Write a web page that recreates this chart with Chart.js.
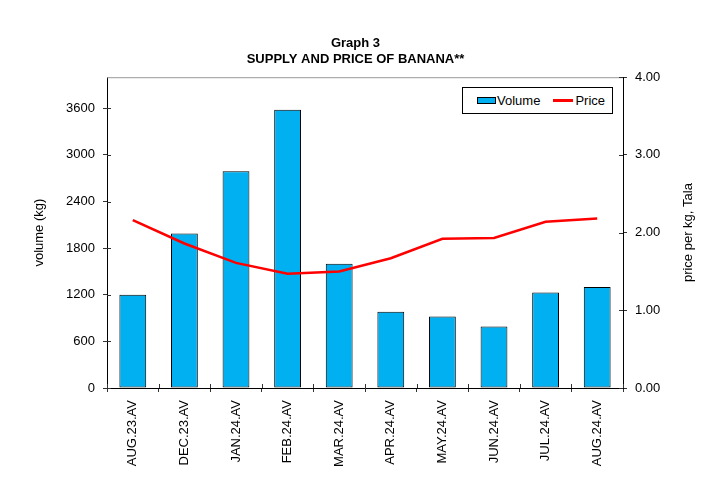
<!DOCTYPE html>
<html>
<head>
<meta charset="utf-8">
<script src="https://cdn.jsdelivr.net/npm/chart.js@4.4.1/dist/chart.umd.min.js"></script>
<style>
  html, body { margin: 0; padding: 0; background: #fff; }
  #wrap { position: relative; width: 711px; height: 495px; }
  #legend {
    position: absolute; left: 462px; top: 87px; width: 151px; height: 27px;
    border: 1px solid #000; background: #fff; box-sizing: border-box;
    font: 13px "Liberation Sans", Arial, sans-serif; color: #000;
    display: flex; align-items: center;
  }
  #legend .item { display: flex; align-items: center; }
  #legend .sw { display: inline-block; width: 17px; height: 5px; border: 1px solid #000; margin: 0 1px 0 14px; }
  #legend .ln { display: inline-block; width: 20px; height: 3px; margin: 0 2px 0 13px; }
</style>
</head>
<body>
<div id="wrap">
  <canvas id="chart" width="711" height="495"></canvas>
  <div id="legend"></div>
</div>
<script>
const months = ['AUG.23.AV', 'DEC.23.AV', 'JAN.24.AV', 'FEB.24.AV', 'MAR.24.AV',
                'APR.24.AV', 'MAY.24.AV', 'JUN.24.AV', 'JUL.24.AV', 'AUG.24.AV'];
const volume = [1200, 1990, 2790, 3580, 1600, 980, 920, 790, 1230, 1300];
const price = [2.16, 1.86, 1.61, 1.47, 1.50, 1.67, 1.92, 1.93, 2.14, 2.18];
const volumeTicks = [0, 600, 1200, 1800, 2400, 3000, 3600];
const priceTitle = 'price per kg, Tala';

Chart.defaults.font.family = '"Liberation Sans", Arial, sans-serif';
Chart.defaults.font.size = 13;
Chart.defaults.color = '#000';

// tick marks that cross the axis line, the grey top edge of the plot,
// and the right axis title (reads bottom to top like the left one)
const axisDecor = {
  id: 'axisDecor',
  afterDraw(chart) {
    const { ctx, chartArea: a, scales } = chart;
    ctx.save();
    ctx.lineWidth = 1;
    ctx.strokeStyle = '#999';
    ctx.beginPath();
    ctx.moveTo(a.left, a.top + 0.5);
    ctx.lineTo(a.right, a.top + 0.5);
    ctx.stroke();
    ctx.strokeStyle = '#333';
    ctx.beginPath();
    scales.y.ticks.forEach(t => {
      const py = Math.round(scales.y.getPixelForValue(t.value)) + 0.5;
      ctx.moveTo(a.left, py); ctx.lineTo(a.left + 4, py);
    });
    scales.y1.ticks.forEach(t => {
      const py = Math.round(scales.y1.getPixelForValue(t.value)) + 0.5;
      ctx.moveTo(a.right, py); ctx.lineTo(a.right - 4, py);
    });
    const w = (a.right - a.left) / months.length;
    for (let i = 0; i <= months.length; i++) {
      const px = Math.round(a.left + i * w) + 0.5;
      ctx.moveTo(px, a.bottom); ctx.lineTo(px, a.bottom - 4);
    }
    ctx.stroke();

    ctx.translate(688, (a.top + a.bottom) / 2);
    ctx.rotate(-Math.PI / 2);
    ctx.fillStyle = '#000';
    ctx.font = '13px "Liberation Sans", Arial, sans-serif';
    ctx.textAlign = 'center';
    ctx.textBaseline = 'middle';
    ctx.fillText(priceTitle, 0, 0);
    ctx.restore();
  }
};

const chart = new Chart(document.getElementById('chart'), {
  data: {
    labels: months,
    datasets: [
      {
        type: 'line',
        label: 'Price',
        data: price,
        yAxisID: 'y1',
        borderColor: '#ff0000',
        backgroundColor: '#ff0000',
        borderWidth: 2.5,
        pointRadius: 0,
        tension: 0,
        order: 0
      },
      {
        type: 'bar',
        label: 'Volume',
        data: volume,
        yAxisID: 'y',
        backgroundColor: '#00b0f0',
        borderColor: '#000',
        borderWidth: 1,
        borderSkipped: false,
        barPercentage: 0.52,
        categoryPercentage: 1,
        order: 1
      }
    ]
  },
  options: {
    responsive: false,
    animation: false,
    layout: { padding: 0 },
    plugins: {
      legend: { display: false },
      tooltip: { enabled: false },
      title: {
        display: true,
        text: ['Graph 3', 'SUPPLY AND PRICE OF BANANA**'],
        font: { size: 13, weight: 'bold' },
        color: '#000',
        padding: { top: 36, bottom: 10 }
      }
    },
    scales: {
      x: {
        offset: true,
        grid: { offset: true, drawOnChartArea: false, tickLength: 4, color: '#333' },
        border: { color: '#000' },
        ticks: { minRotation: 90, maxRotation: 90, padding: 8, autoSkip: false },
        afterFit: s => { s.height = 107; }
      },
      y: {
        position: 'left',
        min: 0,
        max: 4000,
        grid: { drawOnChartArea: false, tickLength: 4, color: '#333' },
        border: { color: '#000' },
        ticks: { padding: 8, callback: v => String(v) },
        afterBuildTicks: s => { s.ticks = volumeTicks.map(v => ({ value: v })); },
        title: { display: true, text: 'volume (kg)', padding: { top: 32, bottom: 0 } },
        afterFit: s => { s.width = 107; }
      },
      y1: {
        position: 'right',
        min: 0,
        max: 4,
        grid: { drawOnChartArea: false, tickLength: 4, color: '#333' },
        border: { color: '#000' },
        ticks: { stepSize: 1, padding: 8, callback: v => v.toFixed(2) },
        afterFit: s => { s.width = 88; }
      }
    }
  },
  plugins: [axisDecor]
});

// legend box inside the plot, built from the datasets
const legend = document.getElementById('legend');
['Volume', 'Price'].forEach(name => {
  const ds = chart.data.datasets.find(d => d.label === name);
  const item = document.createElement('span');
  item.className = 'item';
  const mark = document.createElement('span');
  mark.className = ds.type === 'bar' ? 'sw' : 'ln';
  mark.style.background = ds.backgroundColor;
  item.appendChild(mark);
  item.appendChild(document.createTextNode(ds.label));
  legend.appendChild(item);
});
</script>
</body>
</html>
